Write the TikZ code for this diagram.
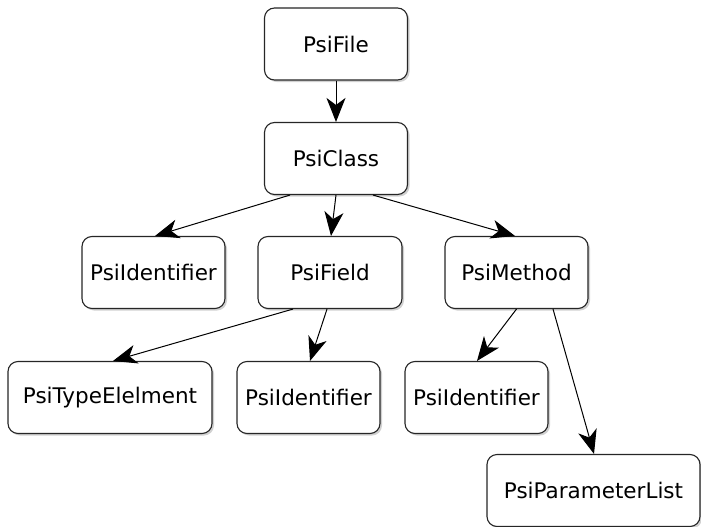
\documentclass[tikz,border=0pt]{standalone}
\usepackage{fontspec}
\setmainfont{DejaVu Sans}
\usetikzlibrary{arrows.meta,shadows}

\begin{document}
\begin{tikzpicture}[x=1pt, y=-1pt,
  psi/.style={draw=black!85, line width=1.1pt, rounded corners=10pt, fill=white,
    drop shadow={shadow xshift=2pt, shadow yshift=-2pt, fill=black!30, opacity=0.6},
    inner sep=0pt, minimum height=72pt, font=\fontsize{21.5}{25}\selectfont},
  link/.style={line width=1pt, -{Stealth[length=24pt, width=19pt, inset=7pt]}}]
\useasboundingbox (0,0) rectangle (701,527);

\node[psi, minimum width=143pt] (file)   at (336, 44)    {PsiFile};
\node[psi, minimum width=143pt] (class)  at (336, 158.5) {PsiClass};
\node[psi, minimum width=143pt] (ident1) at (153.5, 272.5) {PsiIdentifier};
\node[psi, minimum width=144pt] (field)  at (330, 272.5) {PsiField};
\node[psi, minimum width=143pt] (method) at (516.5, 272.5) {PsiMethod};
\node[psi, minimum width=204pt] (type)   at (110, 397.5) {PsiTypeElelment};
\node[psi, minimum width=143pt] (ident2) at (308.5, 397.5) {PsiIdentifier};
\node[psi, minimum width=143pt] (ident3) at (476.5, 397.5) {PsiIdentifier};
\node[psi, minimum width=213pt] (params) at (593.5, 490.5) {PsiParameterList};

\draw[link] (file.south) -- (class.north);
\draw[link] ([xshift=-46pt]class.south) -- ([xshift=1.5pt]ident1.north);
\draw[link] (class.south) -- ([xshift=1pt]field.north);
\draw[link] ([xshift=37pt]class.south) -- ([xshift=-1.5pt]method.north);
\draw[link] ([xshift=-37pt]field.south) -- ([xshift=3pt]type.north);
\draw[link] ([xshift=-3pt]field.south) -- ([xshift=1.5pt]ident2.north);
\draw[link] (method.south) -- ([xshift=0.5pt]ident3.north);
\draw[link] ([xshift=36.5pt]method.south) -- ([xshift=0.5pt]params.north);
\end{tikzpicture}
\end{document}
